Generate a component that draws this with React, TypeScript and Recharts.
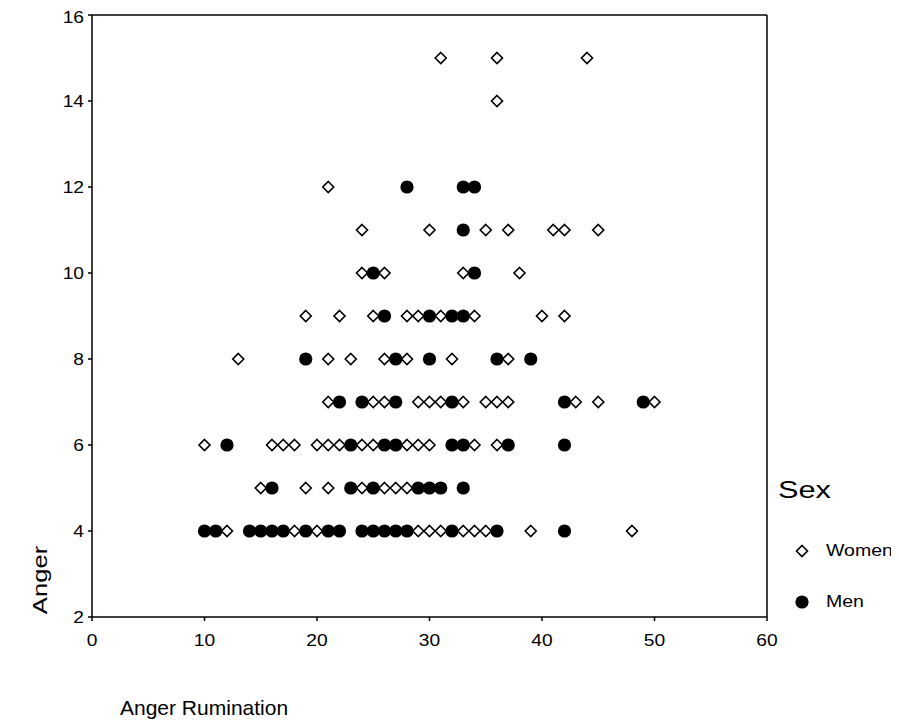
import { ScatterChart, Scatter, XAxis, YAxis, ReferenceLine, Legend } from 'recharts';

// Anger rumination scores for each anger level, split by sex
const women4 = [12, 18, 20, 29, 30, 31, 33, 34, 35, 39, 48];
const women5 = [15, 19, 21, 24, 26, 27, 28];
const women6 = [10, 16, 17, 18, 20, 21, 22, 24, 25, 28, 29, 30, 34, 36];
const women7 = [21, 25, 26, 29, 30, 31, 33, 35, 36, 37, 43, 45, 50];
const women8 = [13, 21, 23, 26, 28, 32, 37];
const women9 = [19, 22, 25, 28, 29, 31, 34, 40, 42];
const women10 = [24, 26, 33, 38];
const women11 = [24, 30, 35, 37, 41, 42, 45];
const women12 = [21];
const women14 = [36];
const women15 = [31, 36, 44];

const men4 = [10, 11, 14, 15, 16, 17, 19, 21, 22, 24, 25, 26, 27, 28, 32, 36, 42];
const men5 = [16, 23, 25, 29, 30, 31, 33];
const men6 = [12, 23, 26, 27, 32, 33, 37, 42];
const men7 = [22, 24, 27, 32, 42, 49];
const men8 = [19, 27, 30, 36, 39];
const men9 = [26, 30, 32, 33];
const men10 = [25, 34];
const men11 = [33];
const men12 = [28, 33, 34];

const xTicks = [0, 10, 20, 30, 40, 50, 60];
const yTicks = [2, 4, 6, 8, 10, 12, 14, 16];

type Pt = { rumination: number; anger: number };

const rows = (groups: [number, number[]][]): Pt[] =>
  groups.flatMap(([anger, xs]) => xs.map((rumination) => ({ rumination, anger })));

const womenData = rows([
  [4, women4], [5, women5], [6, women6], [7, women7], [8, women8], [9, women9],
  [10, women10], [11, women11], [12, women12], [14, women14], [15, women15],
]);

const menData = rows([
  [4, men4], [5, men5], [6, men6], [7, men7], [8, men8], [9, men9],
  [10, men10], [11, men11], [12, men12],
]);

const FONT = '"Liberation Sans", Arial, sans-serif';

const Diamond = ({ cx, cy }: any) => (
  <path
    d={`M${cx},${cy - 5.5} L${cx + 5.5},${cy} L${cx},${cy + 5.5} L${cx - 5.5},${cy} Z`}
    fill="#fff"
    stroke="#000"
    strokeWidth={1.6}
  />
);

const Dot = ({ cx, cy }: any) => <circle cx={cx} cy={cy} r={6.6} fill="#000" />;

// tick text, slightly widened like the printed figure
const Tick = ({ x, y, payload, textAnchor, vertical }: any) => (
  <text
    transform={`translate(${x},${y}) scale(1.2,1)`}
    textAnchor={textAnchor}
    dy={vertical ? '0.355em' : '0.71em'}
    fill="#000"
    fontSize={16}
    fontFamily={FONT}
  >
    {payload.value}
  </text>
);

const wide = (k: number): React.CSSProperties => ({
  display: 'inline-block',
  transform: `scaleX(${k})`,
  transformOrigin: 'left center',
});

const SexLegend = () => (
  <div style={{ fontFamily: FONT, color: '#000' }}>
    <div style={{ fontSize: 24, lineHeight: '30px', marginBottom: 34 }}>
      <span style={wide(1.28)}>Sex</span>
    </div>
    <div style={{ display: 'flex', alignItems: 'center', height: 24, marginBottom: 27, marginLeft: 16 }}>
      <svg width={16} height={16}>
        <Diamond cx={8} cy={8} />
      </svg>
      <span style={{ fontSize: 16, marginLeft: 16, ...wide(1.22) }}>Women</span>
    </div>
    <div style={{ display: 'flex', alignItems: 'center', height: 24, marginLeft: 16 }}>
      <svg width={16} height={16}>
        <Dot cx={8} cy={8} />
      </svg>
      <span style={{ fontSize: 16, marginLeft: 16, ...wide(1.22) }}>Men</span>
    </div>
  </div>
);

export default function App() {
  return (
    <div style={{ position: 'relative', width: 880, height: 712, background: '#fff' }}>
      <ScatterChart width={880} height={712} margin={{ top: 7, right: 121, bottom: 0, left: 0 }}>
        <XAxis
          type="number"
          dataKey="rumination"
          domain={[0, 60]}
          ticks={xTicks}
          height={103}
          tickSize={4}
          tickMargin={14}
          stroke="#000"
          strokeWidth={1.5}
          tick={<Tick />}
        />
        <YAxis
          type="number"
          dataKey="anger"
          domain={[2, 16]}
          ticks={yTicks}
          width={84}
          tickSize={4}
          tickMargin={4}
          stroke="#000"
          strokeWidth={1.5}
          tick={<Tick vertical />}
        />
        <ReferenceLine x={60} stroke="#000" strokeWidth={1.5} />
        <ReferenceLine y={16} stroke="#000" strokeWidth={1.5} />
        <Legend
          layout="vertical"
          align="center"
          verticalAlign="middle"
          content={<SexLegend />}
          wrapperStyle={{ left: 770, top: 467, width: 125 }}
        />
        <Scatter name="Women" data={womenData} shape={<Diamond />} isAnimationActive={false} />
        <Scatter name="Men" data={menData} shape={<Dot />} isAnimationActive={false} />
      </ScatterChart>
      <div
        style={{
          position: 'absolute',
          left: 112,
          top: 688,
          fontFamily: FONT,
          fontSize: 21,
          color: '#000',
          whiteSpace: 'nowrap',
        }}
      >
        Anger Rumination
      </div>
      <div
        style={{
          position: 'absolute',
          left: 32,
          top: 572,
          fontFamily: FONT,
          fontSize: 21,
          color: '#000',
          whiteSpace: 'nowrap',
          transform: 'translate(-50%, -50%) rotate(-90deg) scaleX(1.22)',
        }}
      >
        Anger
      </div>
    </div>
  );
}
